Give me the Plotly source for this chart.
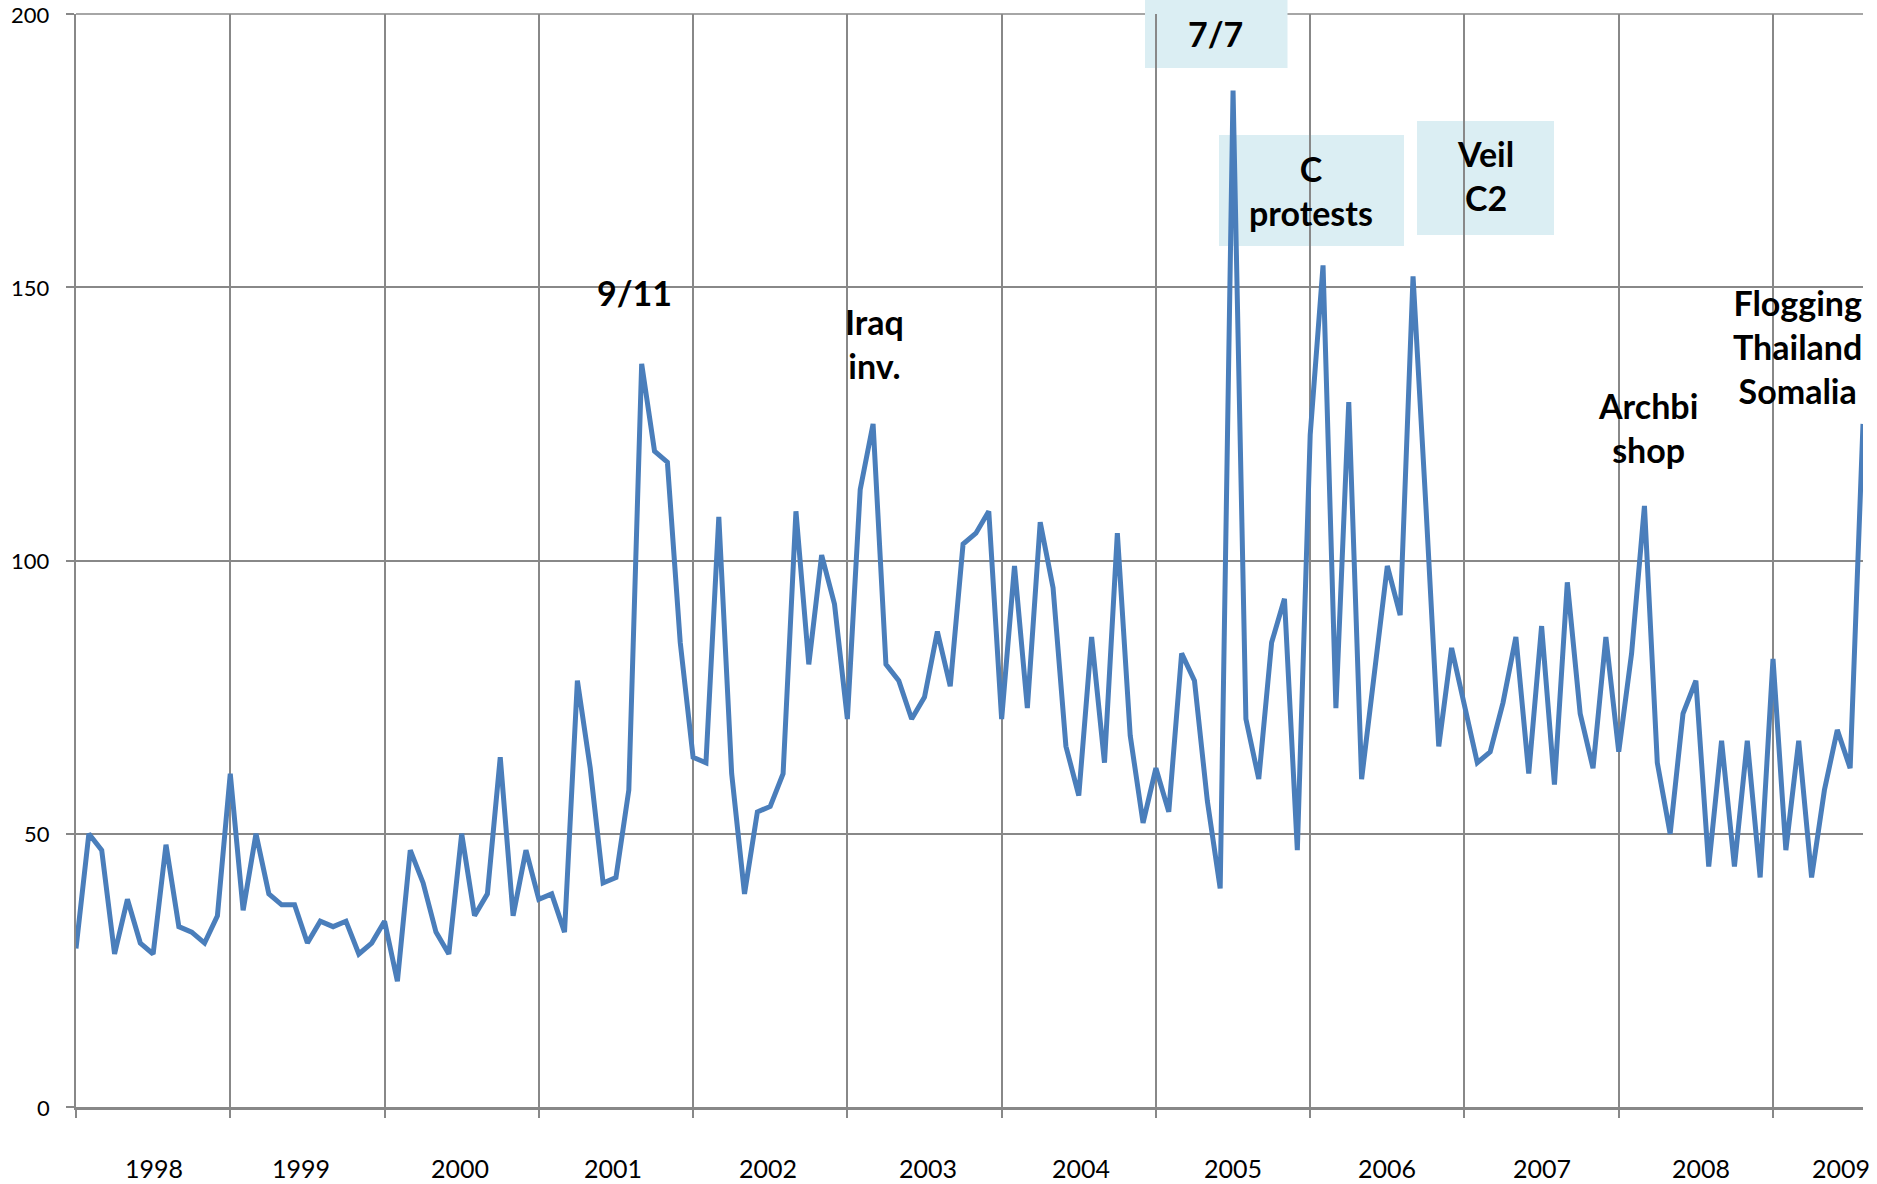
import plotly.graph_objects as go

# Monthly counts, Jan 1998 .. Aug 2009
values_1998 = [29, 50, 47, 28, 38, 30, 28, 48, 33, 32, 30, 35]
values_1999 = [61, 36, 50, 39, 37, 37, 30, 34, 33, 34, 28, 30]
values_2000 = [34, 23, 47, 41, 32, 28, 50, 35, 39, 64, 35, 47]
values_2001 = [38, 39, 32, 78, 62, 41, 42, 58, 136, 120, 118, 85]
values_2002 = [64, 63, 108, 61, 39, 54, 55, 61, 109, 81, 101, 92]
values_2003 = [71, 113, 125, 81, 78, 71, 75, 87, 77, 103, 105, 109]
values_2004 = [71, 99, 73, 107, 95, 66, 57, 86, 63, 105, 68, 52]
values_2005 = [62, 54, 83, 78, 56, 40, 186, 71, 60, 85, 93, 47]
values_2006 = [123, 154, 73, 129, 60, 80, 99, 90, 152, 110, 66, 84]
values_2007 = [73, 63, 65, 74, 86, 61, 88, 59, 96, 72, 62, 86]
values_2008 = [65, 83, 110, 63, 50, 72, 78, 44, 67, 44, 67, 42]
values_2009 = [82, 47, 67, 42, 58, 69, 62, 125]

years = ["1998", "1999", "2000", "2001", "2002", "2003",
         "2004", "2005", "2006", "2007", "2008", "2009"]
y_ticks = [0, 50, 100, 150, 200]

event_labels = ["9/11", "Iraq<br>inv.", "7/7", "C<br>protests", "Veil<br>C2",
                "Archbi<br>shop", "Flogging<br>Thailand<br>Somalia"]

values = (values_1998 + values_1999 + values_2000 + values_2001 + values_2002 +
          values_2003 + values_2004 + values_2005 + values_2006 + values_2007 +
          values_2008 + values_2009)
months = list(range(len(values)))

W, H = 1877, 1184
L, R, T, B = 76, 14, 14, 77
PW, PH = W - L - R, H - T - B


def px_x(px):
    return (px - L) / PW


def px_y(py):
    return (H - B - py) / PH


FONT = "Lato, 'Open Sans', 'Noto Sans', sans-serif"
GRID = "#888888"
BOX = "#DBEEF3"

fig = go.Figure()
fig.add_trace(go.Scatter(
    x=months, y=values, mode="lines",
    line=dict(color="#4A7EBB", width=5),
    hoverinfo="skip", showlegend=False,
))

shapes = [
    # top gridline (plotly drops grid lines at the very end of the range)
    dict(type="line", xref="paper", yref="paper", x0=0, x1=1, y0=1, y1=1,
         line=dict(color=GRID, width=1.6), layer="below"),
]
# label boxes (pixel extents)
boxes = [(1145, 0, 1287.5, 68), (1219, 135, 1404, 246), (1417, 121, 1554, 235)]
for x0, y0, x1, y1 in boxes:
    shapes.append(dict(type="rect", xref="paper", yref="paper",
                       x0=px_x(x0), x1=px_x(x1), y0=px_y(y1), y1=px_y(y0),
                       fillcolor=BOX, line=dict(width=0), layer="between"))

text_pos = [(634.5, 292), (874, 344), (1215, 33), (1311, 190), (1485, 175),
            (1648, 428), (1797, 347)]
annotations = []
for txt, (px, py) in zip(event_labels, text_pos):
    annotations.append(dict(
        text="<b>" + txt + "</b>", xref="paper", yref="paper",
        x=px_x(px), y=px_y(py), xanchor="center", yanchor="middle",
        showarrow=False, font=dict(family=FONT, size=34, color="black"),
    ))

year_pos = [6.05, 17.5, 29.9, 41.8, 53.8, 66.3, 78.2, 90.0, 102.0, 114.0, 126.4, 137.3]
for yr, xp in zip(years, year_pos):
    annotations.append(dict(
        text=yr, xref="x", yref="paper", x=xp, y=px_y(1168),
        xanchor="center", yanchor="middle", showarrow=False,
        font=dict(family=FONT, size=25, color="black"),
    ))

# y-axis tick labels, right-aligned a fixed distance left of the axis
for v in y_ticks:
    annotations.append(dict(
        text=str(v), xref="paper", yref="y", x=px_x(52), y=v,
        xanchor="right", yanchor="middle", showarrow=False,
        font=dict(family=FONT, size=22, color="black"),
    ))

fig.update_layout(
    template="none",
    width=W, height=H, autosize=False,
    margin=dict(l=L, r=R, t=T, b=B, pad=0),
    paper_bgcolor="white", plot_bgcolor="white",
    font=dict(family=FONT, color="black"),
    shapes=shapes, annotations=annotations, showlegend=False,
    xaxis=dict(
        range=[0, len(values) - 1], tick0=0, dtick=12, showticklabels=False,
        showgrid=True, gridcolor=GRID, gridwidth=1.6,
        ticks="outside", ticklen=8, tickcolor=GRID, tickwidth=1.6,
        showline=True, linecolor=GRID, linewidth=3, zeroline=False,
        automargin=False,
    ),
    yaxis=dict(
        range=[0, 200], tickvals=y_ticks, showticklabels=False,
        showgrid=True, gridcolor=GRID, gridwidth=1.6,
        ticks="outside", ticklen=8, tickcolor=GRID, tickwidth=1.6,
        showline=True, linecolor=GRID, linewidth=1.6, zeroline=False,
        automargin=False,
    ),
)

fig.write_html(
    "out.html",
    config={"displayModeBar": False},
    post_script="document.body.style.margin='0';document.body.style.overflow='hidden';",
)
